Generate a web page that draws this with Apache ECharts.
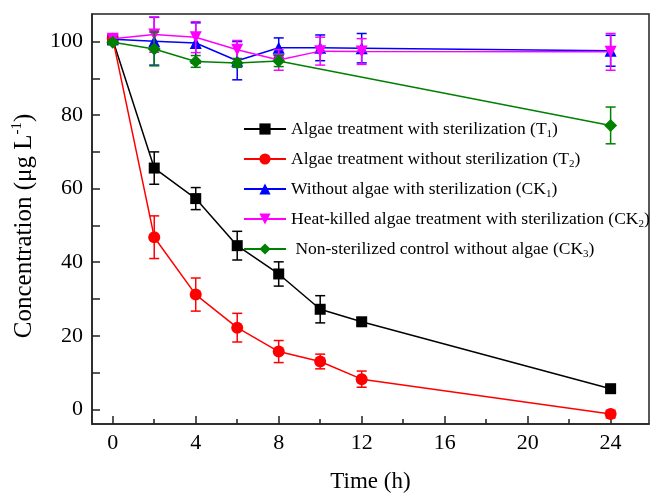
<!DOCTYPE html>
<html>
<head>
<meta charset="utf-8">
<script src="https://cdn.jsdelivr.net/npm/echarts@6/dist/echarts.min.js"></script>
<style>html,body{margin:0;padding:0;background:#fff}#c{width:651px;height:498px}</style>
</head>
<body>
<div id="c"></div>
<script>
// ---- data ----
var times = [0, 2, 4, 6, 8, 10, 12, 24];
var timesCK3 = [0, 2, 4, 6, 8, 24];
var T1 = [100.5, 65.6, 57.3, 44.5, 36.8, 27.2, 23.8, 5.6];
var T1err = [0.8, 4.4, 3.0, 3.9, 3.3, 3.7, 1.0, 0.8];
var T2 = [100.8, 46.8, 31.2, 22.2, 15.7, 13.0, 8.2, -1.3];
var T2err = [0.8, 5.8, 4.5, 3.9, 3.0, 2.0, 2.2, 1.0];
var CK1 = [100.6, 100.1, 99.6, 94.8, 98.3, 98.3, 98.2, 97.5];
var CK1err = [1.0, 6.5, 5.5, 5.2, 2.7, 3.5, 4.0, 4.2];
var CK2 = [100.8, 101.9, 101.2, 97.8, 95.0, 97.4, 97.3, 97.2];
var CK2err = [1.0, 4.8, 4.2, 2.5, 2.8, 3.8, 3.5, 5.0];
var CK3 = [99.8, 98.0, 94.6, 94.2, 94.7, 77.2];
var CK3err = [0.5, 4.6, 1.6, 1.2, 1.5, 5.0];
var xMajorTicks = [0, 4, 8, 12, 16, 20, 24];
var xMinorTicks = [2, 6, 10, 14, 18, 22];
var yTicks = [0, 10, 20, 30, 40, 50, 60, 70, 80, 90, 100];
var yLabels = [0, 20, 40, 60, 80, 100];
var names = ['T1', 'T2', 'CK1', 'CK2', 'CK3'];
var legendText = {
  T1: '{n|Algae treatment with sterilization (T}{s|1}{n|)}',
  T2: '{n|Algae treatment without sterilization (T}{s|2}{n|)}',
  CK1: '{n|Without algae with sterilization (CK}{s|1}{n|)}',
  CK2: '{n|Heat-killed algae treatment with sterilization (CK}{s|2}{n|)}',
  CK3: '{n| Non-sterilized control without algae (CK}{s|3}{n|)}'
};

var FONT = '"Liberation Serif", "Times New Roman", serif';
var colors = ['#000000', '#ff0000', '#0000ff', '#ff00ff', '#008000'];
var symbols = ['rect', 'circle', 'triangle', 'triangle', 'diamond'];
var symRot = [0, 0, 0, 180, 0];
var symSizes = [11, 12, 12, 12, 13];

function pairs(xs, ys) { return xs.map(function (x, i) { return [x, ys[i]]; }); }
function errData(xs, ys, es) { return xs.map(function (x, i) { return [x, ys[i] - es[i], ys[i] + es[i]]; }); }

function errRender(color) {
  return function (params, api) {
    var x = api.value(0), lo = api.value(1), hi = api.value(2);
    var p1 = api.coord([x, hi]), p2 = api.coord([x, lo]);
    var hw = 5;
    var st = { stroke: color, lineWidth: 1.5 };
    return {
      type: 'group', children: [
        { type: 'line', shape: { x1: p1[0], y1: p1[1], x2: p2[0], y2: p2[1] }, style: st },
        { type: 'line', shape: { x1: p1[0] - hw, y1: p1[1], x2: p1[0] + hw, y2: p1[1] }, style: st },
        { type: 'line', shape: { x1: p2[0] - hw, y1: p2[1], x2: p2[0] + hw, y2: p2[1] }, style: st }
      ]
    };
  };
}

var sets = [
  [times, T1, T1err], [times, T2, T2err], [times, CK1, CK1err], [times, CK2, CK2err], [timesCK3, CK3, CK3err]
];

var series = [];
sets.forEach(function (s, i) {
  series.push({
    type: 'custom', renderItem: errRender(colors[i]), data: errData(s[0], s[1], s[2]),
    encode: { x: 0, y: [1, 2] }, z: 2 + i * 2, silent: true, xAxisIndex: 0
  });
});
sets.forEach(function (s, i) {
  series.push({
    name: names[i], type: 'line', data: pairs(s[0], s[1]), xAxisIndex: 0,
    symbol: symbols[i], symbolSize: symSizes[i], symbolRotate: symRot[i],
    lineStyle: { color: colors[i], width: 1.5 },
    itemStyle: { color: colors[i], borderWidth: 0 },
    z: 3 + i * 2, animation: false
  });
});

var chart = echarts.init(document.getElementById('c'), null, { renderer: 'canvas' });
chart.setOption({
  animation: false,
  backgroundColor: '#fff',
  grid: { left: 92, right: 2, top: 14, bottom: 68, show: true, borderColor: '#222', borderWidth: 1.5 },
  legend: {
    orient: 'vertical', left: 238, top: 115, itemWidth: 42, itemHeight: 14, itemGap: 10,
    data: names,
    formatter: function (n) { return legendText[n]; },
    textStyle: {
      color: '#000', fontFamily: FONT, fontSize: 17.5,
      rich: {
        n: { fontFamily: FONT, fontSize: 17.5, color: '#000', lineHeight: 22, verticalAlign: 'middle' },
        s: { fontFamily: FONT, fontSize: 11, color: '#000', lineHeight: 11, verticalAlign: 'bottom' }
      }
    }
  },
  xAxis: [{
    type: 'value', min: -1, max: 25.85, position: 'bottom',
    name: 'Time (h)', nameLocation: 'middle', nameGap: 46,
    nameTextStyle: { fontFamily: FONT, fontSize: 23, color: '#000' },
    axisLine: { show: true, onZero: false, lineStyle: { color: '#222', width: 1.5 } },
    axisTick: { show: true, inside: true, length: 8, customValues: xMajorTicks, lineStyle: { color: '#222', width: 1.5 } },
    axisLabel: { customValues: xMajorTicks, fontFamily: FONT, fontSize: 22, color: '#000', margin: 8 },
    splitLine: { show: false }
  }, {
    type: 'value', min: -1, max: 25.85, position: 'bottom', gridIndex: 0,
    axisLine: { show: false, onZero: false },
    axisTick: { show: true, inside: true, length: 5, customValues: xMinorTicks, lineStyle: { color: '#222', width: 1.5 } },
    axisLabel: { show: false },
    splitLine: { show: false }
  }],
  yAxis: {
    type: 'value', min: -4, max: 107.5,
    name: '{n|Concentration (μg L}{p|-1}{n|)}', nameLocation: 'middle', nameGap: 54, nameRotate: 90,
    nameTextStyle: {
      fontFamily: FONT, fontSize: 25, color: '#000', padding: [0, 14, 0, 0],
      rich: {
        n: { fontFamily: FONT, fontSize: 25, color: '#000', lineHeight: 28, verticalAlign: 'middle' },
        p: { fontFamily: FONT, fontSize: 15, color: '#000', lineHeight: 15, verticalAlign: 'top' }
      }
    },
    axisLine: { show: true, onZero: false, lineStyle: { color: '#222', width: 1.5 } },
    axisTick: { show: true, inside: true, length: 8, customValues: yTicks, lineStyle: { color: '#222', width: 1.5 } },
    axisLabel: { customValues: yLabels, fontFamily: FONT, fontSize: 22, color: '#000', margin: 9 },
    splitLine: { show: false }
  },
  series: series
});
</script>
</body>
</html>
